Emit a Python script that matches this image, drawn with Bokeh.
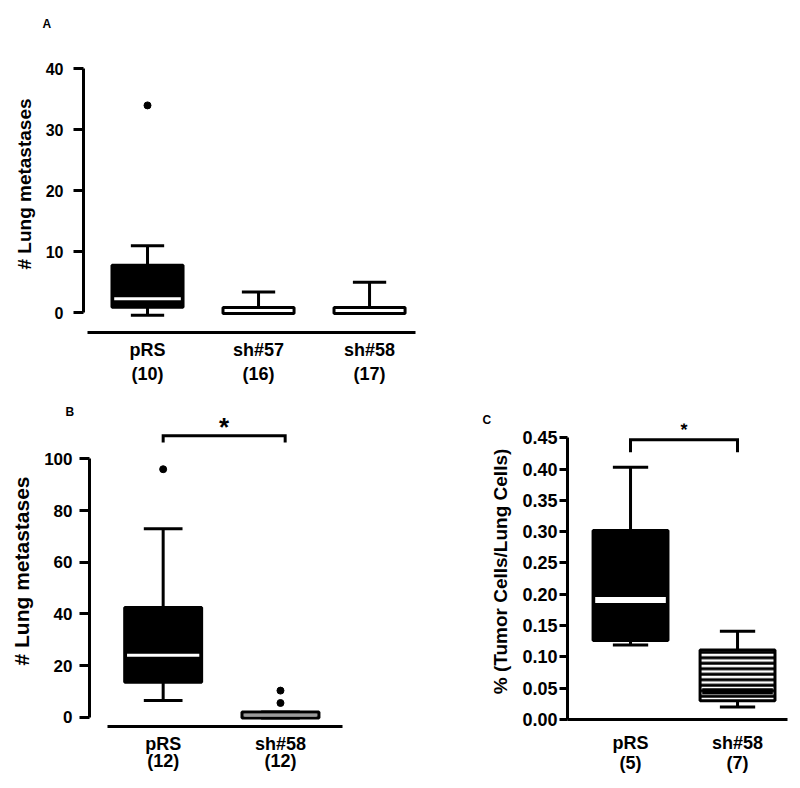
from bokeh.plotting import figure
from bokeh.layouts import column, row
from bokeh.models import FixedTicker, Range1d, Title, PrintfTickFormatter, ColumnDataSource
from bokeh.core.properties import value
from bokeh.embed import file_html
from bokeh.resources import INLINE

FONT = "Liberation Sans"

# ---------------- Panel A data ----------------
a_cats = ["pRS", "sh#57", "sh#58"]
a_n = [10, 16, 17]
a_whisk_lo = [-0.4, -0.1, -0.1]
a_q1 = [0.9, -0.1, -0.1]
a_median = [2.3, -0.1, -0.1]
a_q3 = [7.8, 0.85, 0.85]
a_whisk_hi = [11.0, 3.4, 5.0]
a_outlier_cat = ["pRS"]
a_outlier_val = [34]
a_yticks = [0, 10, 20, 30, 40]

# ---------------- Panel B data ----------------
b_cats = ["pRS", "sh#58"]
b_n = [12, 12]
b_whisk_lo = [6.5, -0.3]
b_q1 = [13.5, -0.3]
b_median = [24.0, 0.8]
b_q3 = [42.5, 2.0]
b_whisk_hi = [73.0, 2.0]
b_outlier_cat = ["pRS", "sh#58", "sh#58"]
b_outlier_val = [96, 10.3, 5.5]
b_yticks = [0, 20, 40, 60, 80, 100]

# ---------------- Panel C data ----------------
c_cats = ["pRS", "sh#58"]
c_n = [5, 7]
c_whisk_lo = [0.119, 0.020]
c_q1 = [0.126, 0.030]
c_median = [0.191, 0.045]
c_q3 = [0.302, 0.111]
c_whisk_hi = [0.403, 0.141]
c_yticks = [0.00, 0.05, 0.10, 0.15, 0.20, 0.25, 0.30, 0.35, 0.40, 0.45]


def make_fig(width, height, borders, xr, yr, yticks, ylabel, cats, ns,
             tick_size, ylabel_size, cat_line_height, tick_out, label_standoff,
             ylabel_standoff, xbounds, ybounds, xlabel_standoff):
    left, right, top, bottom = borders
    p = figure(width=width, height=height, x_range=Range1d(*xr), y_range=Range1d(*yr),
               output_backend="svg", toolbar_location=None, frame_align=False,
               min_border_left=left, min_border_right=right,
               min_border_top=top, min_border_bottom=bottom)
    p.xgrid.visible = False
    p.ygrid.visible = False
    p.outline_line_color = None
    p.background_fill_color = "white"
    p.border_fill_color = "white"

    ya = p.yaxis[0]
    ya.ticker = FixedTicker(ticks=yticks)
    ya.bounds = ybounds
    ya.axis_line_width = 3
    ya.major_tick_line_width = 3
    ya.major_tick_out = tick_out
    ya.major_tick_in = 0
    ya.minor_tick_line_color = None
    ya.major_label_text_font = FONT
    ya.major_label_text_font_style = "bold"
    ya.major_label_text_font_size = f"{tick_size}px"
    ya.major_label_text_color = "black"
    ya.major_label_standoff = label_standoff
    ya.axis_label = ylabel
    ya.axis_label_text_font = FONT
    ya.axis_label_text_font_style = "bold"
    ya.axis_label_text_font_size = f"{ylabel_size}px"
    ya.axis_label_text_color = "black"
    ya.axis_label_standoff = ylabel_standoff

    xa = p.xaxis[0]
    idx = list(range(1, len(cats) + 1))
    xa.ticker = FixedTicker(ticks=idx)
    xa.major_label_overrides = {i: f"{c}\n({n})" for i, c, n in zip(idx, cats, ns)}
    if xbounds is not None:
        xa.bounds = xbounds
    xa.axis_line_width = 3
    xa.major_tick_line_color = None
    xa.major_tick_out = 0
    xa.major_tick_in = 0
    xa.minor_tick_line_color = None
    xa.major_label_text_font = FONT
    xa.major_label_text_font_style = "bold"
    xa.major_label_text_font_size = "18px"
    xa.major_label_text_color = "black"
    xa.major_label_text_line_height = cat_line_height
    xa.major_label_standoff = xlabel_standoff
    return p


def draw_boxes(p, cats, wlo, q1, med, q3, whi, box_w, cap_w, fills, med_colors,
               med_width=3, hatch=None):
    xs = list(range(1, len(cats) + 1))
    src = ColumnDataSource(dict(
        x=xs,
        left=[x - box_w / 2 for x in xs], right=[x + box_w / 2 for x in xs],
        cl=[x - cap_w / 2 for x in xs], cr=[x + cap_w / 2 for x in xs],
        ml=[x - box_w / 2 + 0.02 for x in xs], mr=[x + box_w / 2 - 0.02 for x in xs],
        wlo=wlo, q1=q1, med=med, q3=q3, whi=whi, fill=fills, mc=med_colors,
        hatch=hatch if hatch is not None else [" "] * len(xs),
    ))
    # whiskers
    p.segment(x0="x", y0="q3", x1="x", y1="whi", source=src, line_color="black", line_width=3)
    p.segment(x0="x", y0="q1", x1="x", y1="wlo", source=src, line_color="black", line_width=3)
    p.segment(x0="cl", y0="whi", x1="cr", y1="whi", source=src, line_color="black", line_width=3)
    p.segment(x0="cl", y0="wlo", x1="cr", y1="wlo", source=src, line_color="black", line_width=3)
    # boxes
    p.quad(left="left", right="right", bottom="q1", top="q3", source=src,
           fill_color="fill", line_color="black", line_width=3,
           hatch_pattern="hatch", hatch_color="black", hatch_weight=3, hatch_scale=5.5)
    # medians
    p.segment(x0="ml", y0="med", x1="mr", y1="med", source=src, line_color="mc",
              line_width=med_width)


def bracket(p, x1, x2, y_top, y_bot, star_y, star_size):
    p.line(x=[x1, x1, x2, x2], y=[y_bot, y_top, y_top, y_bot], line_color="black",
           line_width=3, line_join="miter")
    p.text(x=[(x1 + x2) / 2], y=[star_y], text=["*"], text_align="center",
           text_baseline="middle", text_font=value(FONT), text_font_style="bold",
           text_font_size=star_size, text_color="black")


def panel_letter(p, letter, offset, standoff):
    p.add_layout(Title(text=letter, align="left", offset=offset, standoff=standoff,
                       text_font=FONT, text_font_style="bold", text_font_size="12px",
                       text_color="black"), "above")


# ---------------- Panel A ----------------
pA = make_fig(800, 390, (83, 380, 35, 58), (0.4234, 3.459), (-3.23, 45.46), a_yticks,
              "# Lung metastases", a_cats, a_n, 16, 19, 1.2, 10, 10, 8,
              (0.459, 3.414), (0, 40), 7)
draw_boxes(pA, a_cats, a_whisk_lo, a_q1, a_median, a_q3, a_whisk_hi, 0.64, 0.30,
           ["black", "white", "white"], ["white", "black", "black"])
pA.scatter(x=[a_cats.index(c) + 1 for c in a_outlier_cat], y=a_outlier_val, size=7,
           color="black")
panel_letter(pA, "A", -41, 10)

# ---------------- Panel B ----------------
pB = make_fig(408, 398, (89, 58, 25, 62), (0.372, 2.597), (-3.6, 116.8), b_yticks,
              "# Lung metastases", b_cats, b_n, 17, 21, 0.85, 10, 7, 8,
              (0.525, 2.529), (0, 100), 7)
draw_boxes(pB, b_cats, b_whisk_lo, b_q1, b_median, b_q3, b_whisk_hi, 0.656, 0.33,
           ["black", "#9a9a9a"], ["white", "#9a9a9a"])
pB.scatter(x=[b_cats.index(c) + 1 for c in b_outlier_cat], y=b_outlier_val, size=7,
           color="black")
bracket(pB, 1, 2.04, 109.0, 106.3, 112.5, "26px")
panel_letter(pB, "B", -24, -6)

# ---------------- Panel C ----------------
pC = make_fig(392, 398, (159, 13, 33, 69), (0.411, 2.467), (0, 0.4728), c_yticks,
              "% (Tumor Cells/Lung Cells)", c_cats, c_n, 18, 19, 1.0, 8, 2, 8,
              None, (0, 0.45), 13)
pC.yaxis[0].formatter = PrintfTickFormatter(format="%.2f")
draw_boxes(pC, c_cats, c_whisk_lo, c_q1, c_median, c_q3, c_whisk_hi, 0.70, 0.33,
           ["black", "white"], ["white", "black"], med_width=6,
           hatch=[" ", "horizontal_line"])
bracket(pC, 1, 2, 0.447, 0.427, 0.462, "18px")
panel_letter(pC, "C", -85, -6)

layout = column(pA, row(pB, pC, spacing=0), spacing=0)
open("out.html", "w").write(file_html(layout, INLINE))
